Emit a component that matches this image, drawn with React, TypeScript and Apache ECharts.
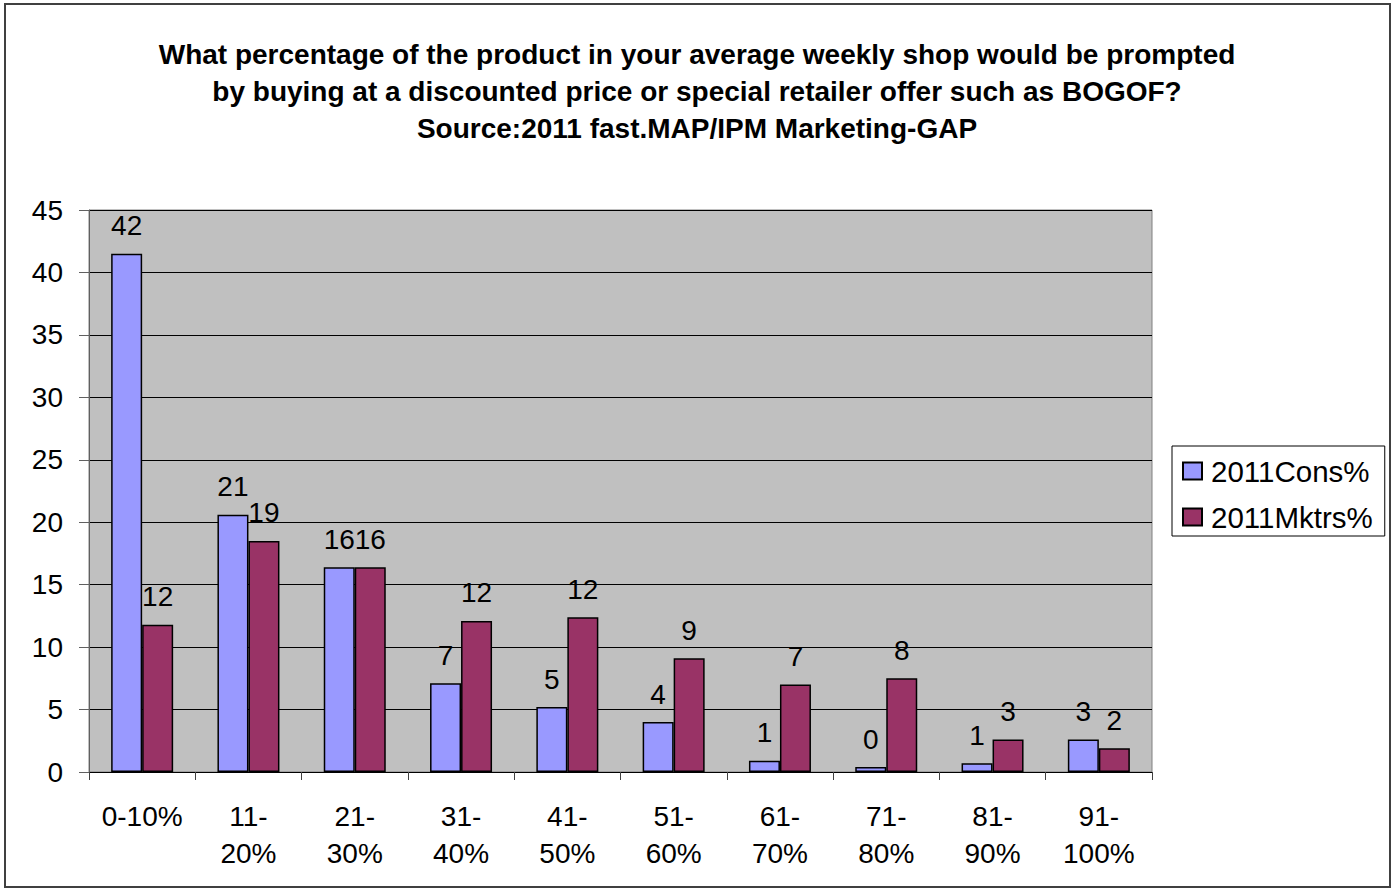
import React, { useEffect, useRef } from "react";
import * as echarts from "echarts";

const categories = ["0-10%", "11-\n20%", "21-\n30%", "31-\n40%", "41-\n50%", "51-\n60%", "61-\n70%", "71-\n80%", "81-\n90%", "91-\n100%"];
const consValues = [41.5, 20.6, 16.4, 7.1, 5.2, 4.0, 0.9, 0.4, 0.7, 2.6];
const mktrsValues = [11.8, 18.5, 16.4, 12.1, 12.4, 9.1, 7.0, 7.5, 2.6, 1.9];
const seriesNames = ["2011Cons%", "2011Mktrs%"];
const titleText =
  "What percentage of the product in your average weekly shop would be prompted\nby buying at a discounted price or special retailer offer such as BOGOF?\nSource:2011 fast.MAP/IPM Marketing-GAP";

const FONT = "'Liberation Sans', Arial, sans-serif";

export default function App() {
  const ref = useRef<HTMLDivElement>(null);
  useEffect(() => {
    if (!ref.current) return;
    const chart = echarts.init(ref.current, undefined, { renderer: "svg" });
    const label = {
      show: true,
      position: "top",
      distance: 13,
      fontSize: 28,
      lineHeight: 30,
      color: "#000",
      fontFamily: FONT,
      formatter: (p: any) => String(Math.round(p.value)),
    };
    chart.setOption({
      animation: false,
      backgroundColor: "#fff",
      textStyle: { fontFamily: FONT },
      title: {
        text: titleText,
        left: "center",
        top: 31,
        textStyle: { fontSize: 28, fontWeight: "bold", lineHeight: 37, color: "#000", fontFamily: FONT },
      },
      graphic: [
        {
          type: "rect",
          shape: { x: 5, y: 4, width: 1385, height: 883 },
          style: { fill: "none", stroke: "#404040", lineWidth: 2 },
          silent: true,
        },
      ],
      legend: {
        orient: "vertical",
        left: 1172,
        top: 446,
        backgroundColor: "#fff",
        borderColor: "#000",
        borderWidth: 1,
        padding: [9, 12, 3, 10],
        itemGap: 14,
        itemWidth: 19,
        itemHeight: 17,
        icon: "rect",
        textStyle: { fontSize: 29.5, color: "#000", fontFamily: FONT, lineHeight: 32, padding: [0, 0, 0, 4] },
        data: seriesNames,
      },
      grid: {
        left: 89,
        right: 242,
        top: 210,
        bottom: 120,
        show: true,
        backgroundColor: "#C0C0C0",
        borderColor: "#808080",
        borderWidth: 1,
      },
      xAxis: {
        type: "category",
        data: categories,
        axisLine: { show: true, lineStyle: { color: "#000", width: 1 } },
        axisTick: { show: true, length: 8, interval: 0, lineStyle: { color: "#404040" } },
        axisLabel: { interval: 0, margin: 26, fontSize: 28, lineHeight: 37, color: "#000", fontFamily: FONT },
      },
      yAxis: {
        type: "value",
        min: 0,
        max: 45,
        interval: 5,
        axisLine: { show: true, lineStyle: { color: "#606060", width: 1 } },
        axisTick: { show: true, length: 10, lineStyle: { color: "#606060" } },
        axisLabel: { margin: 26, fontSize: 28, color: "#000", fontFamily: FONT },
        splitLine: { show: true, lineStyle: { color: "#000", width: 1 } },
      },
      series: [
        {
          name: seriesNames[0],
          type: "bar",
          data: consValues,
          barWidth: 31,
          barGap: "0%",
          itemStyle: { color: "#9999FF", borderColor: "#000", borderWidth: 1.5 },
          label,
        },
        {
          name: seriesNames[1],
          type: "bar",
          data: mktrsValues,
          barWidth: 31,
          barGap: "0%",
          itemStyle: { color: "#993366", borderColor: "#000", borderWidth: 1.5 },
          label,
        },
      ],
    });
    return () => chart.dispose();
  }, []);
  return (
    <div
      ref={ref}
      style={{ position: "fixed", left: 0, top: 0, width: 1394, height: 892 }}
    />
  );
}
